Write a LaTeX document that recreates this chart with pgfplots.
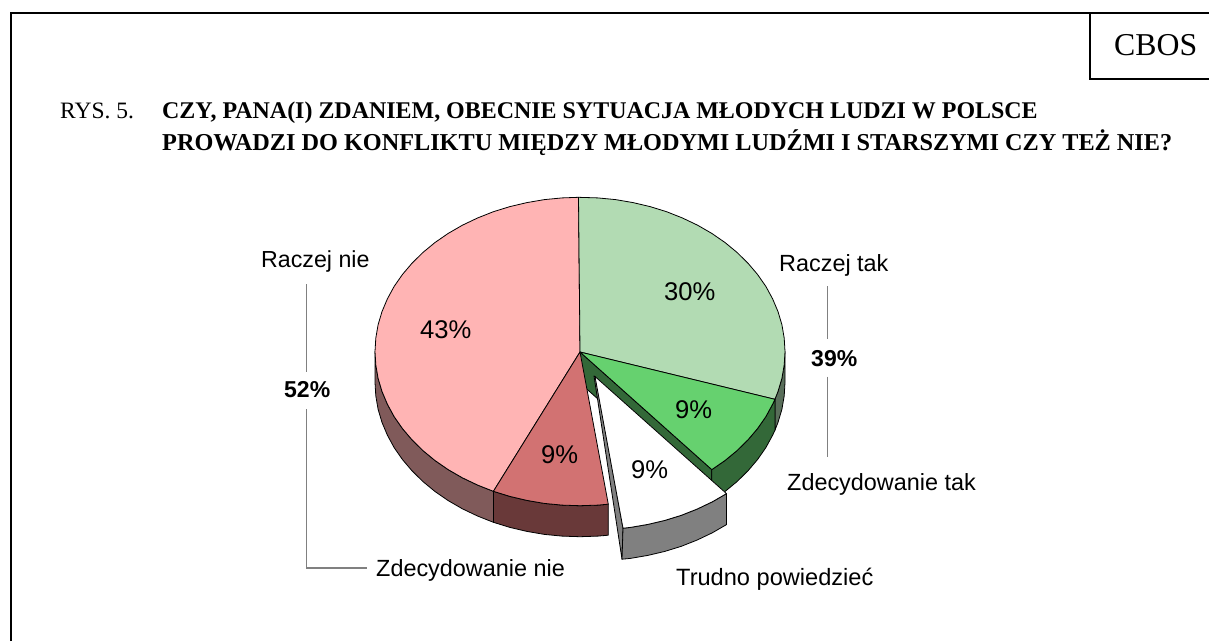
\documentclass[border=0pt]{standalone}
\usepackage{fontspec}
\usepackage{pgfplots}
\pgfplotsset{compat=1.18}
\setmainfont{Liberation Sans}
\newfontfamily\tnr{Liberation Serif}
\definecolor{cPink}{HTML}{FFB4B4}
\definecolor{cLGreen}{HTML}{B2DBB3}
\definecolor{cGreen}{HTML}{66D16F}
\definecolor{cRed}{HTML}{D27272}
\definecolor{cPinkW}{HTML}{805A5A}
\definecolor{cLGreenW}{HTML}{596E5A}
\definecolor{cGreenW}{HTML}{336838}
\definecolor{cRedW}{HTML}{693939}
\definecolor{cGrayW}{HTML}{808080}
\newcommand{\lab}[4]{\node[anchor=base west,inner sep=0pt,font=#3] at (axis cs:#1,#2) {#4};}
\pgfplotsset{pie/.style={draw=black,line width=0.8pt,line join=round,no markers,fill=#1}}
\begin{document}
\begin{tikzpicture}
\path[use as bounding box] (0,0) rectangle (1209pt,641pt);
\begin{axis}[at={(0,0)},anchor=south west,scale only axis,width=1209pt,height=641pt,
  xmin=0,xmax=1209,ymin=0,ymax=641,y dir=reverse,hide axis]
% frame
\addplot[black,line width=2.2pt,no markers] coordinates {(11,641) (11,12.7) (1209,12.7)};
\addplot[black,line width=2.2pt,no markers] coordinates {(1090,12.7) (1090,78.7) (1209,78.7)};
% guide lines
\addplot[gray,line width=1.3pt,no markers] coordinates {(827.7,286) (827.7,339)};
\addplot[gray,line width=1.3pt,no markers] coordinates {(827.7,376.7) (827.7,457)};
\addplot[gray,line width=1.1pt,no markers] coordinates {(306.5,284) (306.5,371.7)};
\addplot[gray,line width=1.1pt,no markers] coordinates {(306.5,409) (306.5,568) (366.7,568)};
% side walls
\addplot[pie=cLGreenW] coordinates {(785,351.5) (784.2,364.9) (781.9,378.3) (778,391.4) (774.9,399.3) (774.9,430.3) (778,422.4) (781.9,409.3) (784.2,395.9) (785,382.5)} --cycle;
\addplot[pie=cPinkW] coordinates {(493.4,491.3) (477.5,485) (462.4,477.8) (448.2,469.6) (435,460.5) (423,450.6) (412.1,439.9) (402.5,428.6) (394.2,416.7) (387.4,404.2) (382,391.4) (378.1,378.3) (375.8,364.9) (375,351.5) (375,382.5) (375.8,395.9) (378.1,409.3) (382,422.4) (387.4,435.2) (394.2,447.7) (402.5,459.6) (412.1,470.9) (423,481.6) (435,491.5) (448.2,500.6) (462.4,508.8) (477.5,516) (493.4,522.3)} --cycle;
\addplot[pie=cGreenW] coordinates {(580,352) (711.8,469.6) (711.8,500.6) (580,383)} --cycle;
\addplot[pie=cGreenW] coordinates {(774.9,399.3) (772.6,404.2) (765.8,416.7) (757.5,428.6) (747.9,439.9) (737,450.6) (725,460.5) (711.8,469.6) (711.8,500.6) (725,491.5) (737,481.6) (747.9,470.9) (757.5,459.6) (765.8,447.7) (772.6,435.2) (774.9,430.3)} --cycle;
\addplot[pie=cRedW] coordinates {(608.3,504.2) (597.9,505.1) (580,505.7) (562.1,505.1) (544.4,503.4) (526.9,500.4) (509.9,496.4) (493.4,491.3) (493.4,522.3) (509.9,527.4) (526.9,531.4) (544.4,534.4) (562.1,536.1) (580,536.7) (597.9,536.1) (608.3,535.2)} --cycle;
% top faces
\addplot[pie=cPink] coordinates {(580,352) (493.4,491.3) (477.5,485) (462.4,477.8) (448.2,469.6) (435,460.5) (423,450.6) (412.1,439.9) (402.5,428.6) (394.2,416.7) (387.4,404.2) (382,391.4) (378.1,378.3) (375.8,364.9) (375,351.5) (375.8,338.1) (378.1,324.7) (382,311.6) (387.4,298.8) (394.2,286.3) (402.5,274.4) (412.1,263.1) (423,252.4) (435,242.5) (448.2,233.4) (462.4,225.2) (477.5,218) (493.4,211.7) (509.9,206.6) (526.9,202.6) (544.4,199.6) (562.1,197.9) (578.5,197.3)} --cycle;
\addplot[pie=cLGreen] coordinates {(580,352) (578.5,197.3) (597.9,197.9) (615.6,199.6) (633.1,202.6) (650.1,206.6) (666.6,211.7) (682.5,218) (697.6,225.2) (711.8,233.4) (725,242.5) (737,252.4) (747.9,263.1) (757.5,274.4) (765.8,286.3) (772.6,298.8) (778,311.6) (781.9,324.7) (784.2,338.1) (785,351.5) (784.2,364.9) (781.9,378.3) (778,391.4) (774.9,399.3)} --cycle;
\addplot[pie=cGreen] coordinates {(580,352) (774.9,399.3) (772.6,404.2) (765.8,416.7) (757.5,428.6) (747.9,439.9) (737,450.6) (725,460.5) (711.8,469.6)} --cycle;
\addplot[pie=cRed] coordinates {(580,352) (608.3,504.2) (597.9,505.1) (580,505.7) (562.1,505.1) (544.4,503.4) (526.9,500.4) (509.9,496.4) (493.4,491.3)} --cycle;
% exploded slice
\addplot[pie=cGrayW] coordinates {(594,376) (622,559.2) (623,528.2) (595.5,376.5)} --cycle;
\addplot[pie=cGrayW] coordinates {(726.5,493.6) (712.3,501.8) (697.2,509) (681.3,515.3) (664.8,520.4) (647.8,524.4) (630.3,527.4) (623,528.2) (622,559.2) (630.3,558.4) (647.8,555.4) (664.8,551.4) (681.3,546.3) (697.2,540) (712.3,532.8) (726.5,524.6)} --cycle;
\addplot[pie=white] coordinates {(595,376.5) (726.5,493.6) (712.3,501.8) (697.2,509) (681.3,515.3) (664.8,520.4) (647.8,524.4) (630.3,527.4) (623,528.2)} --cycle;
% texts
\lab{1114}{55}{\tnr\fontsize{31.8}{32}\selectfont}{CBOS}
\lab{60}{118}{\tnr\fontsize{23.5}{24}\selectfont}{RYS. 5.}
\lab{162}{118}{\tnr\bfseries\fontsize{23.95}{24}\selectfont}{CZY, PANA(I) ZDANIEM, OBECNIE SYTUACJA MŁODYCH LUDZI W POLSCE}
\lab{162}{150.5}{\tnr\bfseries\fontsize{24.25}{24}\selectfont}{PROWADZI DO KONFLIKTU MIĘDZY MŁODYMI LUDŹMI I STARSZYMI CZY TEŻ NIE?}
\lab{779}{271}{\fontsize{23.4}{23}\selectfont}{Raczej tak}
\lab{787}{490}{\fontsize{23.4}{23}\selectfont}{Zdecydowanie tak}
\lab{261}{267}{\fontsize{23.2}{23}\selectfont}{Raczej nie}
\lab{376}{576}{\fontsize{23.4}{23}\selectfont}{Zdecydowanie nie}
\lab{676}{585}{\fontsize{23.6}{23}\selectfont}{Trudno powiedzieć}
\lab{811}{366}{\bfseries\fontsize{23}{23}\selectfont}{39\%}
\lab{284}{397}{\bfseries\fontsize{23}{23}\selectfont}{52\%}
\lab{664}{300}{\fontsize{25.6}{25}\selectfont}{30\%}
\lab{420}{338}{\fontsize{25.6}{25}\selectfont}{43\%}
\lab{675}{418}{\fontsize{25.6}{25}\selectfont}{9\%}
\lab{541}{463}{\fontsize{25.6}{25}\selectfont}{9\%}
\lab{631}{478}{\fontsize{25.6}{25}\selectfont}{9\%}
\end{axis}
\end{tikzpicture}
\end{document}
